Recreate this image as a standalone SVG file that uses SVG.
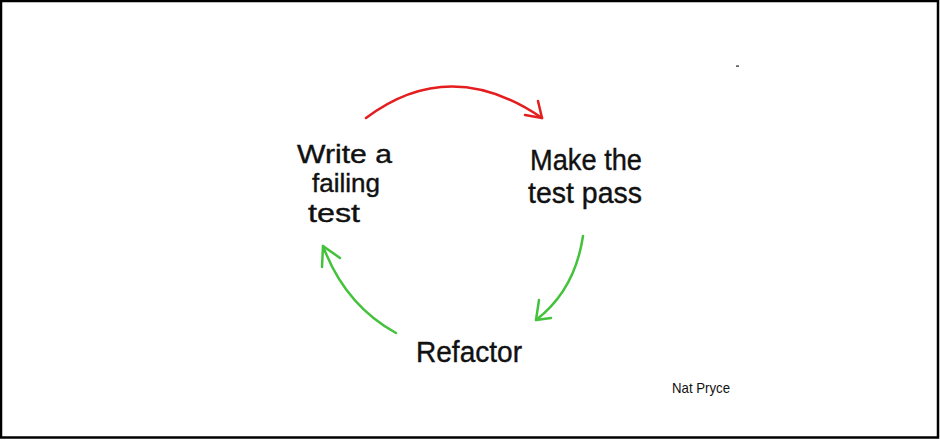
<svg xmlns="http://www.w3.org/2000/svg" width="940" height="440" viewBox="0 0 940 440">
  <style>
    .lbl { font-family: "Liberation Sans", Arial, sans-serif; font-size: 30px; fill: #111; stroke: #111; stroke-width: 0.4; }
    .sm { font-size: 26px; }
    .sig { font-family: "Liberation Sans", Arial, sans-serif; font-size: 15px; fill: #111; }
    .red { fill: none; stroke: #e41e1e; stroke-width: 2.5; stroke-linecap: round; stroke-linejoin: round; }
    .grn { fill: none; stroke: #44c23c; stroke-width: 2.5; stroke-linecap: round; stroke-linejoin: round; }
  </style>
  <rect x="1" y="1" width="937" height="436.5" fill="#fff" stroke="#000" stroke-width="2.5"/>
  <g id="connectors">
    <path class="red" d="M366,118 Q450,55 542,118"/>
    <path class="red" d="M538,101 L542,118 L525,115"/>
    <path class="grn" d="M583,236 Q575,290 536,320"/>
    <path class="grn" d="M539,300 L536,320 L551,318"/>
    <path class="grn" d="M396,333 Q345,305 323,246"/>
    <path class="grn" d="M322,267 L323,246 L340,258"/>
  </g>
  <g id="write-test">
    <text class="lbl sm" x="297" y="163" textLength="95" lengthAdjust="spacingAndGlyphs">Write a</text>
    <text class="lbl sm" x="312" y="192" textLength="68" lengthAdjust="spacingAndGlyphs">failing</text>
    <text class="lbl sm" x="308" y="222" textLength="52" lengthAdjust="spacingAndGlyphs">test</text>
  </g>
  <g id="make-pass">
    <text class="lbl" x="530" y="170" textLength="112" lengthAdjust="spacingAndGlyphs">Make the</text>
    <text class="lbl" x="528" y="203" textLength="114" lengthAdjust="spacingAndGlyphs">test pass</text>
  </g>
  <g id="refactor">
    <text class="lbl" x="416" y="362" font-size="36" textLength="106" lengthAdjust="spacingAndGlyphs">Refactor</text>
  </g>
  <g id="signature">
    <text class="sig" x="672" y="393" textLength="58" lengthAdjust="spacingAndGlyphs">Nat Pryce</text>
  </g>
  <rect x="736" y="65.5" width="3" height="1.2" fill="#222"/>
</svg>
